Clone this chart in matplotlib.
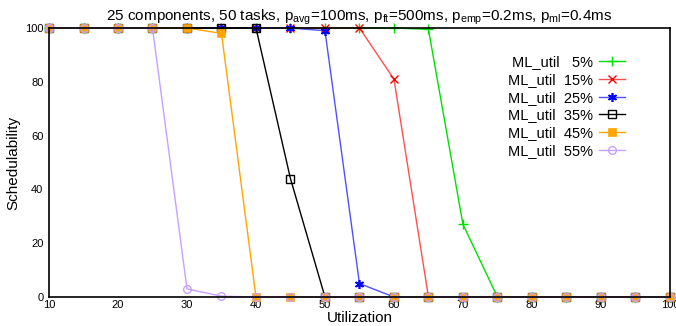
import matplotlib
matplotlib.use("Agg")
import matplotlib.pyplot as plt

plt.rcParams["font.family"] = ["Liberation Sans", "DejaVu Sans"]
plt.rcParams["mathtext.default"] = "regular"

utilization = [10, 15, 20, 25, 30, 35, 40, 45, 50, 55, 60, 65, 70, 75, 80, 85, 90, 95, 100]

ml5 = [100, 100, 100, 100, 100, 100, 100, 100, 100, 100, 100, 99.5, 27, 0, 0, 0, 0, 0, 0]
ml15 = [100, 100, 100, 100, 100, 100, 100, 100, 100, 100, 81, 0, 0, 0, 0, 0, 0, 0, 0]
ml25 = [100, 100, 100, 100, 100, 100, 100, 100, 99, 5, 0, 0, 0, 0, 0, 0, 0, 0, 0]
ml35 = [100, 100, 100, 100, 100, 100, 100, 44, 0, 0, 0, 0, 0, 0, 0, 0, 0, 0, 0]
ml45 = [100, 100, 100, 100, 100, 98, 0, 0, 0, 0, 0, 0, 0, 0, 0, 0, 0, 0, 0]
ml55 = [100, 100, 100, 100, 3, 0.3, 0, 0, 0, 0, 0, 0, 0, 0, 0, 0, 0, 0, 0]

labels = ["ML_util   5%", "ML_util  15%", "ML_util  25%",
          "ML_util  35%", "ML_util  45%", "ML_util  55%"]

fig = plt.figure(figsize=(6.76, 3.26), dpi=100)
ax = fig.add_axes([0.0725, 0.089, 0.9185, 0.825])

styles = [
    (ml5, "#00e000", "+", dict(markersize=7, mew=1.0)),
    (ml15, "#ff5050", "x", dict(markersize=5.5, mew=1.0, markeredgecolor="#ff0000")),
    (ml25, "#5050ff", (6, 2, 0), dict(markersize=6.5, mew=1.2, markeredgecolor="#0000ff")),
    (ml35, "black", "s", dict(markersize=5.5, mew=1.0, markerfacecolor="none")),
    (ml45, "orange", "s", dict(markersize=5.5, mew=0.5)),
    (ml55, "#c8a0ff", "o", dict(markersize=5.5, mew=1.0, markerfacecolor="none")),
]
for (vals, color, marker, kw), lab in zip(styles, labels):
    ax.plot(utilization, vals, color=color, marker=marker, lw=1.0, label=lab,
            clip_on=False, **kw)

ax.set_xlim(10, 100)
ax.set_ylim(0, 100)
ax.set_xticks(range(10, 101, 10))
ax.set_yticks(range(0, 101, 20))
ax.tick_params(length=0, labelsize=8, pad=2)
ax.tick_params(axis="y", pad=4)
for s in ax.spines.values():
    s.set_linewidth(1.2)

ax.set_xlabel("Utilization", fontsize=11, labelpad=1)
ax.set_ylabel("Schedulability", fontsize=11, labelpad=3)
ax.set_title("25 components, 50 tasks, p$_{avg}$=100ms, p$_{ft}$=500ms, "
             "p$_{emp}$=0.2ms, p$_{ml}$=0.4ms", fontsize=11, pad=5)

ax.legend(loc="upper right", bbox_to_anchor=(0.94, 0.925), frameon=False,
          markerfirst=False, fontsize=10.5, handlelength=1.8, labelspacing=0.25,
          handletextpad=0.4, borderpad=0)

fig.savefig("out.png", dpi=100)
